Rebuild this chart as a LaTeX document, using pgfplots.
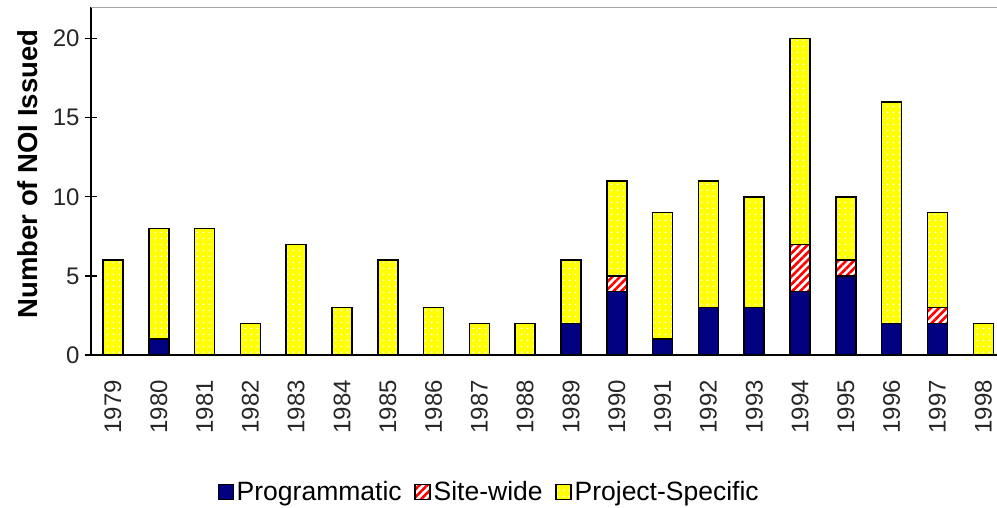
\documentclass[border=0pt]{standalone}
\usepackage{pgfplots}
\pgfplotsset{compat=1.18}
\usepackage{pgfplotstable}
\usepackage{fontspec}
\setmainfont{Liberation Sans}
\usetikzlibrary{patterns.meta}
\definecolor{navyb}{RGB}{0,0,128}
\definecolor{yel}{RGB}{255,255,0}
\definecolor{redh}{RGB}{255,0,0}

\pgfplotstableread{
x P S J
0 0 0 6
1 1 0 7
2 0 0 8
3 0 0 2
4 0 0 7
5 0 0 3
6 0 0 6
7 0 0 3
8 0 0 2
9 0 0 2
10 2 0 4
11 4 1 6
12 1 0 8
13 3 0 8
14 3 0 7
15 4 3 13
16 5 1 4
17 2 0 14
18 2 1 6
19 0 0 2
}\datatable

\begin{document}
\begin{tikzpicture}
\useasboundingbox (-91bp,-153bp) rectangle (906bp,355bp);
\begin{axis}[
  scale only axis,
  width=906bp, height=348bp,
  ybar stacked, bar width=20bp,
  xmin=-0.48, xmax=19.3, ymin=0, ymax=22,
  axis x line*=bottom, axis y line*=left,
  axis line style={black, line width=1.2bp},
  xtick={0,...,19},
  xticklabels={1979,1980,1981,1982,1983,1984,1985,1986,1987,1988,1989,1990,1991,1992,1993,1994,1995,1996,1997,1998},
  x tick style={draw=none},
  ytick={0,5,10,15,20},
  tick align=center, major tick length=12bp,
  y tick style={black, line width=1.2bp},
  /pgf/number format/assume math mode=true,
  ticklabel style={font=\fontsize{24bp}{28bp}\selectfont, text=black!85},
  yticklabel style={xshift=-2bp},
  xticklabel style={rotate=90, anchor=east, inner sep=1bp, xshift=-18bp},
  ylabel={Number of NOI Issued},
  ylabel style={font=\bfseries\fontsize{27.5bp}{32bp}\selectfont, at={(rel axis cs:-0.0695,0.52)}, anchor=center},
  legend style={draw=none, legend columns=-1, at={(rel axis cs:0.439,-0.394)}, anchor=center,
    font=\fontsize{26.5bp}{30bp}\selectfont, nodes={inner sep=1bp},
    /tikz/every odd column/.append style={column sep=2bp},
    /tikz/every even column/.append style={column sep=12bp},
    inner sep=0pt},
  legend image code/.code={\draw[#1, line width=1bp] (0bp,-7.5bp) rectangle (15bp,7.5bp);},
]
\addplot[draw=black, line width=1.5bp, fill=navyb] table[x=x, y=P] {\datatable};
\addplot[draw=black, line width=1.5bp, preaction={fill=white}, preaction={pattern={Lines[angle=45,distance=5.5bp,line width=2.6bp]}, pattern color=redh}] table[x=x, y=S] {\datatable};
\addplot[draw=black, line width=1.5bp, preaction={fill=yel}, preaction={pattern={Dots[distance=6bp,radius=1.1bp]}, pattern color=white}] table[x=x, y=J] {\datatable};
\legend{Programmatic, Site-wide, Project-Specific}
\draw[gray!70, line width=1.5bp] (rel axis cs:0,1) -- (rel axis cs:1,1);
\end{axis}
\end{tikzpicture}
\end{document}
